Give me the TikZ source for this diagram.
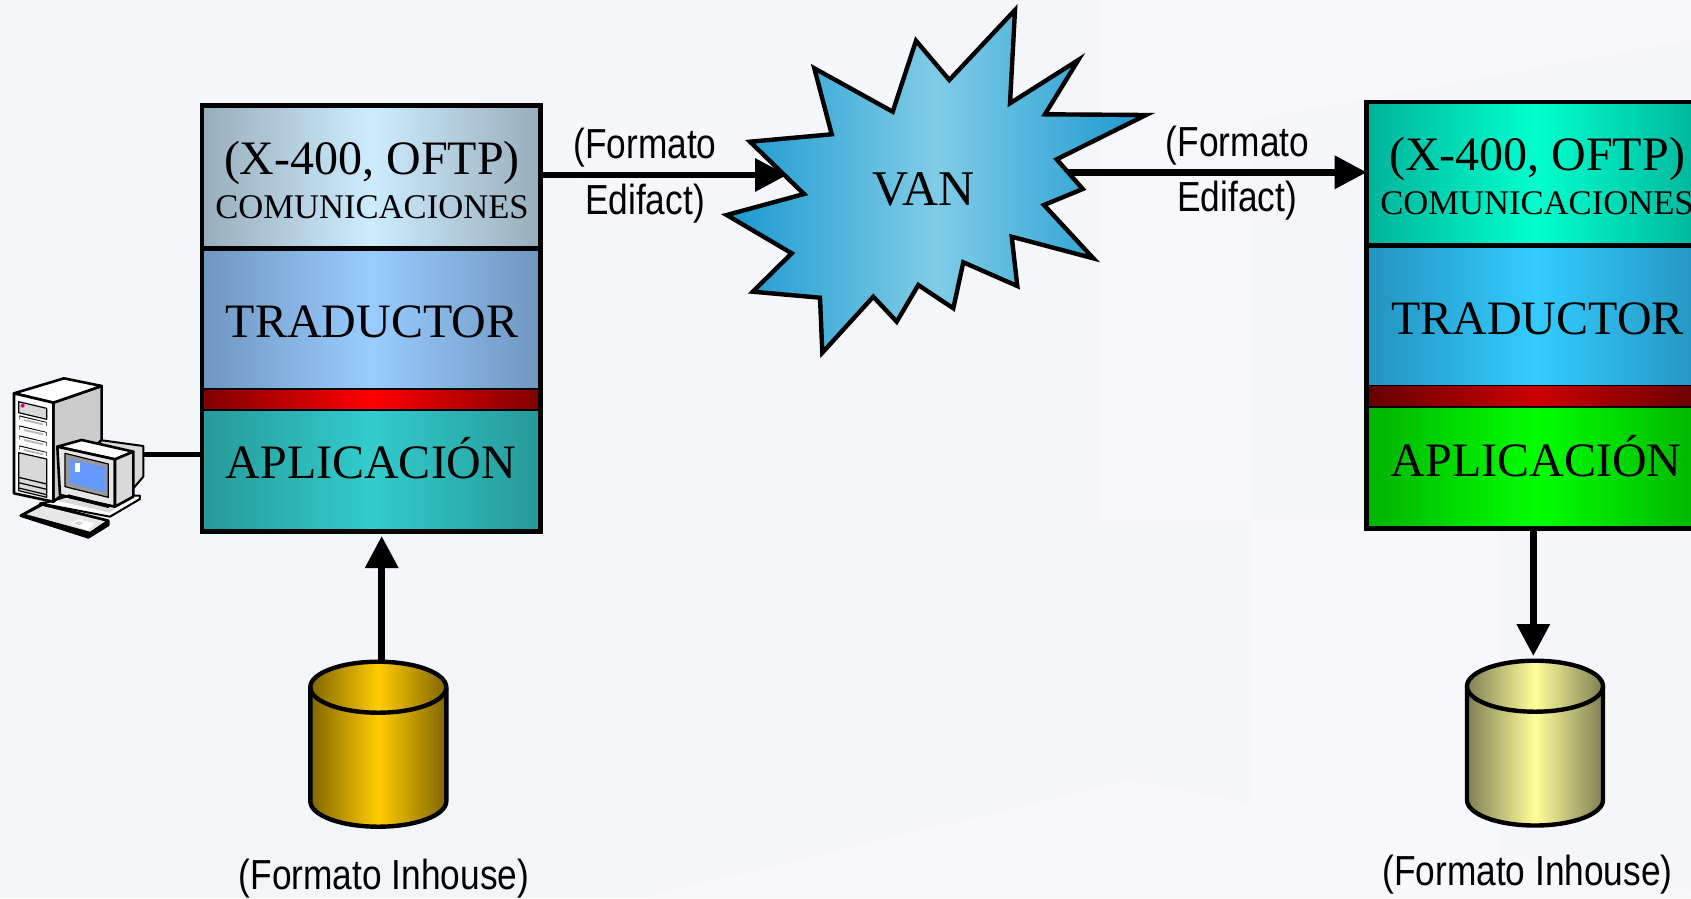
\documentclass[tikz,border=0pt]{standalone}
\usepackage{fontspec}
\setmainfont{Liberation Serif}
\newfontfamily\lblfont[FakeStretch=0.84]{Liberation Sans}
\usetikzlibrary{arrows.meta}
\newcommand{\hx}[1]{\definecolor{#1}{HTML}{#1}}
\hx{F5F6FA}\hx{F3F6F9}\hx{F7F7FC}\hx{99ADBB}\hx{CCECFF}\hx{6F96BF}\hx{99CCFF}\hx{800000}\hx{FF0000}\hx{269999}\hx{33CCCC}
\hx{00B39B}\hx{00FFCC}\hx{2493BF}\hx{33CCFF}\hx{660000}\hx{CC0000}\hx{00B300}\hx{00FF00}\hx{1A99CF}\hx{80CCE6}
\hx{806600}\hx{FFCC00}\hx{7F7F55}\hx{FFFF99}\hx{D9D9D9}\hx{CCCCCC}\hx{E6007E}\hx{BBBBBB}\hx{E6E6E6}\hx{999999}\hx{6699FF}\hx{D0D0D0}
\tikzset{
  layerbox/.style={draw=black,line width=1.2pt,inner sep=0pt,minimum width=337.5pt},
  grad/.style n args={2}{left color=#1,right color=#1,middle color=#2},
  big/.style={inner sep=0pt,anchor=base,font=\fontsize{48}{48}\selectfont},
  vanfont/.style={inner sep=0pt,anchor=base,font=\fontsize{50}{50}\selectfont},
  small/.style={inner sep=0pt,anchor=base,font=\fontsize{34.6}{35}\selectfont},
  lbl/.style={inner sep=0pt,anchor=base,font=\lblfont\fontsize{42}{42}\selectfont},
  conn/.style={line width=6.5pt,draw=black,-{Triangle[length=32pt,width=32pt]}},
  plainconn/.style={line width=5pt,draw=black},
  outline/.style={line width=4.4pt,draw=black,line join=miter},
  pcline/.style={draw=black,line width=2.6pt,line join=round},
  pcthin/.style={draw=black,line width=1.2pt,line join=round}
}
\newcommand{\cyl}[5]{% cx, top, bottom, edge, centre
  \draw[outline,line join=round,grad={#4}{#5}] (#1-68,#2+25.5) -- (#1-68,#3-25.5) arc[start angle=180,end angle=0,x radius=68,y radius=25.5] -- (#1+68,#2+25.5) arc[start angle=0,end angle=-180,x radius=68,y radius=25.5] -- cycle;
  \draw[outline] (#1-68,#2+25.5) arc[start angle=180,end angle=0,x radius=68,y radius=25.5];
}
\begin{document}
\begin{tikzpicture}[x=1pt,y=-1pt]
\useasboundingbox (0,0) rectangle (1691,898);
\clip (0,0) rectangle (1691,898);
\fill[F5F6FA] (0,0) rectangle (1691,898);
\fill[F3F6F9] (0,898) -- (0,330) -- (250,270) -- (520,70) -- (660,330) -- (640,898) -- cycle;
\fill[F7F7FC] (640,898) -- (1130,780) -- (1691,890) -- (1691,898) -- cycle;
\fill[F7F7FC] (1100,0) -- (1691,0) -- (1691,40) -- (1250,120) -- (1250,898) -- (1500,898) -- (1500,520) -- (1100,520) -- cycle;

% left stack
\node[layerbox,grad={99ADBB}{CCECFF},minimum height=141.7pt] (comm1) at (371.3,176.85) {};
\node[layerbox,grad={6F96BF}{99CCFF},minimum height=141.3pt] (trad1) at (371.3,318.35) {};
\node[layerbox,grad={800000}{FF0000},minimum height=21pt] (red1) at (371.3,399.5) {};
\node[layerbox,grad={269999}{33CCCC},minimum height=120.7pt] (app1) at (371.3,470.35) {};
\draw[outline] (comm1.north west) rectangle (app1.south east);
\draw[outline] (comm1.south west) -- (comm1.south east);
\node[big] (t1a) at (372,174.5) {(X-400, OFTP)};
\node[small] (t1b) at (372,218.5) {COMUNICACIONES};
\node[big] (t1c) at (372,337.5) {TRADUCTOR};
\node[big] (t1d) at (371,478.5) {APLICACIÓN};

% right stack
\node[layerbox,grad={00B39B}{00FFCC},minimum height=142.7pt] (comm2) at (1536,173.65) {};
\node[layerbox,grad={2493BF}{33CCFF},minimum height=140.7pt] (trad2) at (1536,315.35) {};
\node[layerbox,grad={660000}{CC0000},minimum height=21.3pt] (red2) at (1536,396.35) {};
\node[layerbox,grad={00B300}{00FF00},minimum height=121pt] (app2) at (1536,467.5) {};
\draw[outline] (comm2.north west) rectangle (app2.south east);
\draw[outline] (comm2.south west) -- (comm2.south east);
\node[big] (t2a) at (1537,170.5) {(X-400, OFTP)};
\node[small] (t2b) at (1537,214.5) {COMUNICACIONES};
\node[big] (t2c) at (1537.5,334.3) {TRADUCTOR};
\node[big] (t2d) at (1536,476) {APLICACIÓN};

% connectors
\coordinate (vanin) at (787,175);
\coordinate (vanout) at (1050,172.3);
\coordinate (db1top) at (381.7,664);
\coordinate (db1tip) at (381.7,536);
\coordinate (db2tip) at (1533.3,656);
\coordinate (pcport) at (143,454.3);
\draw[conn] (comm1.east |- vanin) -- (vanin);
\draw[conn] (vanout) -- (comm2.west |- vanout);
\draw[conn] (db1top) -- (db1tip);
\draw[conn] (app2.south -| db2tip) -- (db2tip);
\draw[plainconn] (pcport) -- (app1.west |- pcport);

% VAN star
\draw[outline,grad={1A99CF}{80CCE6}]
 (1015,10) -- (1010,103.3) -- (1078.3,60) -- (1045,114.3) -- (1146,115) -- (1056.7,159.3) -- (1082.7,189) -- (1044,205) -- (1093.3,258.3) -- (1011.7,236.7) -- (1017.3,286) -- (963.3,262.3) -- (953.3,308.3) -- (918.3,285) -- (896.7,321.7) -- (873.3,296.7) -- (822.3,352.7) -- (820,297.7) -- (752.7,291.7) -- (791.7,253.3) -- (726.7,215) -- (804,194) -- (750,141.7) -- (831.7,134.3) -- (814.3,68.3) -- (892.7,111.7) -- (916,40.7) -- (949.3,80) -- cycle;
\node[vanfont] (van) at (923.5,205.5) {VAN};

% labels
\node[lbl] (l1a) at (645,158.3) {(Formato};
\node[lbl] (l1b) at (645,214) {Edifact)};
\node[lbl] (l2a) at (1237.5,156.7) {(Formato};
\node[lbl] (l2b) at (1237,211.7) {Edifact)};
\node[lbl] (l3) at (384,889) {(Formato Inhouse)};
\node[lbl] (l4) at (1527.5,885) {(Formato Inhouse)};

% cylinders
\cyl{378.3}{661.7}{826.7}{806600}{FFCC00}
\cyl{1535}{660.7}{825.5}{7F7F55}{FFFF99}

% computer
\begin{scope}[shift={(0,360)},x=0.33333pt,y=-0.33333pt]
 % desk base
 \draw[pcthin,line width=2pt,fill=white] (150,425) -- (215,405) -- (420,407) -- (420,417) -- (330,470) -- (120,430) -- cycle;
 \fill[D9D9D9] (170,422) -- (230,410) -- (385,412) -- (330,458) -- cycle;
 % monitor back
 \draw[pcthin,line width=2pt,fill=D9D9D9] (270,236) -- (430,258) -- (430,350) -- (400,385) -- (300,300) -- cycle;
 % tower
 \draw[pcline,fill=CCCCCC] (160,128) -- (305,78) -- (305,240) -- (240,300) -- (180,410) -- (160,425) -- cycle;
 \draw[pcline,fill=white] (42,100) -- (192,55) -- (305,78) -- (160,128) -- cycle;
 \draw[pcline,fill=white] (42,100) -- (160,128) -- (160,425) -- (42,400) -- cycle;
 \draw[pcthin,fill=D9D9D9] (56,125) -- (140,145) -- (140,178) -- (56,158) -- cycle;
 \fill[E6007E] (68,137) circle[radius=6];
 \foreach \yy in {168,198,228,258}{
  \fill[black] (58,\yy-2) -- (140,\yy+18) -- (140,\yy+30) -- (58,\yy+10) -- cycle;
  \fill[white] (60,\yy+2) -- (138,\yy+20) -- (138,\yy+34) -- (60,\yy+16) -- cycle;
  \fill[BBBBBB] (72,\yy+9) -- (130,\yy+22) -- (130,\yy+28) -- (72,\yy+15) -- cycle;
 }
 \draw[pcthin,fill=D9D9D9] (56,278) -- (140,297) -- (140,412) -- (56,392) -- cycle;
 \foreach \yy in {352,368,384}{\draw[pcthin] (56,\yy) -- (140,\yy+20);}
 % monitor
 \draw[pcline,fill=white] (172,260) -- (245,240) -- (400,275) -- (345,298) -- cycle;
 \draw[pcline,fill=E6E6E6] (172,260) -- (345,298) -- (345,440) -- (180,405) -- cycle;
 \draw[pcline,fill=D9D9D9] (345,298) -- (400,275) -- (400,410) -- (345,440) -- cycle;
 \draw[pcthin,fill=999999] (195,280) -- (325,312) -- (325,412) -- (195,380) -- cycle;
 \fill[6699FF] (208,297) -- (316,322) -- (316,397) -- (208,368) -- cycle;
 \fill[white] (225,310) rectangle (240,335);
 \draw[pcthin,fill=black] (205,405) -- (325,435) -- (325,442) -- (205,412) -- cycle;
 % keyboard
 \draw[pcline,fill=black] (62,467) -- (265,532) -- (325,495) -- (325,482) -- (125,432) -- cycle;
 \fill[E6E6E6] (80,463) -- (128,438) -- (315,484) -- (270,515) -- cycle;
 \fill[white] (210,490) -- (235,478) -- (285,490) -- (262,510) -- cycle;
 \fill[D0D0D0] (222,490) -- (235,484) -- (250,488) -- (238,496) -- cycle;
\end{scope}
\end{tikzpicture}
\end{document}
